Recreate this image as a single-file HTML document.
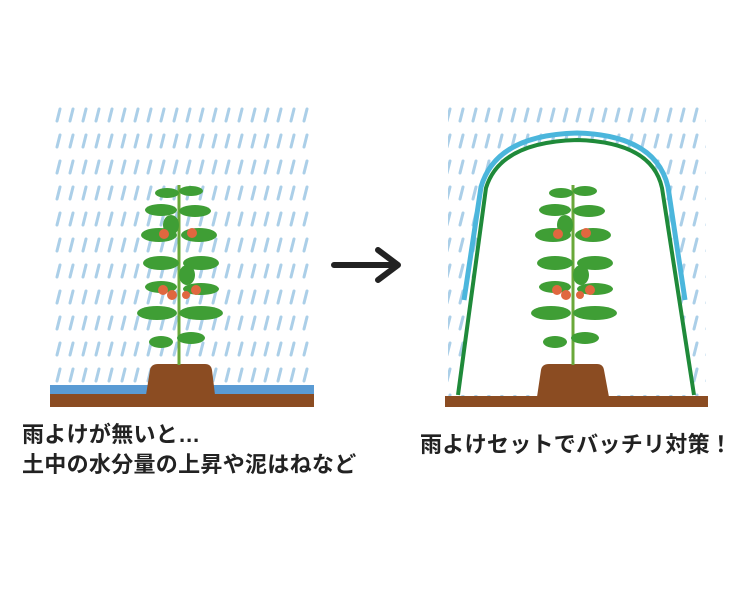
<!DOCTYPE html>
<html><head><meta charset="utf-8"><style>
body{margin:0;background:#fff;width:756px;height:601px;overflow:hidden;position:relative}
.t{position:absolute;font-family:"Liberation Sans","Noto Sans CJK JP",sans-serif;font-weight:bold;font-size:22px;color:#222;white-space:nowrap;letter-spacing:0.3px}
</style></head><body>
<svg width="756" height="601" style="position:absolute;left:0;top:0">
<defs>
<pattern id="rain" width="13" height="26" patternUnits="userSpaceOnUse">
<line x1="8" y1="5" x2="5" y2="17" stroke="#abcfe8" stroke-width="3" stroke-linecap="round"/>
</pattern>
<g id="plant">
<path d="M0,0 L0,180" stroke="#6aa83a" stroke-width="3" fill="none"/>
<g fill="#3f9e35">
<ellipse cx="-12" cy="8" rx="12" ry="5"/><ellipse cx="12" cy="6" rx="12" ry="5"/>
<ellipse cx="-18" cy="25" rx="16" ry="6"/><ellipse cx="16" cy="26" rx="16" ry="6"/>
<ellipse cx="-20" cy="50" rx="18" ry="7"/><ellipse cx="20" cy="50" rx="18" ry="7"/>
<ellipse cx="-18" cy="78" rx="18" ry="7"/><ellipse cx="22" cy="78" rx="18" ry="7"/>
<ellipse cx="-18" cy="102" rx="16" ry="6"/><ellipse cx="22" cy="104" rx="18" ry="6"/>
<ellipse cx="-22" cy="128" rx="20" ry="7"/><ellipse cx="22" cy="128" rx="22" ry="7"/>
<ellipse cx="-18" cy="157" rx="12" ry="6"/><ellipse cx="12" cy="153" rx="14" ry="6"/>
<ellipse cx="-8" cy="40" rx="8" ry="10"/><ellipse cx="8" cy="90" rx="8" ry="10"/>
</g>
<g fill="#e0673f">
<circle cx="-15" cy="49" r="5"/><circle cx="13" cy="48" r="5"/>
<circle cx="-16" cy="105" r="5"/><circle cx="-7" cy="110" r="5"/><circle cx="7" cy="110" r="4"/><circle cx="17" cy="105" r="5"/>
</g>
</g>
</defs>
<rect x="52" y="104" width="260" height="283" fill="url(#rain)"/>
<rect x="50" y="385" width="264" height="10" fill="#5a9bd4"/>
<rect x="50" y="394" width="264" height="13" fill="#8b4c22"/>
<path d="M146,395 L150,370 Q151,364 158,364 L205,364 Q211,364 212,370 L215,395 Z" fill="#8b4c22"/>
<use href="#plant" x="179" y="185"/>
<path d="M334,265 L396,265 M378,250 L398,265 L378,280" stroke="#222" stroke-width="6" fill="none" stroke-linecap="round" stroke-linejoin="round"/>
<rect x="448" y="104" width="258" height="294" fill="url(#rain)"/>
<path d="M458,395 L486,188 Q500,142 577,140 Q652,142 662,188 L694,395 Z" fill="#fff"/>
<path d="M464,300 L481,187 Q496,135 577,133 Q656,135 668,187 L685,300" stroke="#4bb6dc" stroke-width="5" fill="none"/>
<path d="M458,395 L486,188 Q500,142 577,140 Q652,142 662,188 L694,395" stroke="#1f8a3a" stroke-width="4" fill="none"/>
<rect x="445" y="396" width="263" height="11" fill="#8b4c22"/>
<path d="M537,397 L541,370 Q542,364 549,364 L597,364 Q603,364 604,370 L609,397 Z" fill="#8b4c22"/>
<use href="#plant" x="573" y="185"/>
</svg>
<div class="t" style="left:22px;top:417px">雨よけが無いと…</div>
<div class="t" style="left:22px;top:447px">土中の水分量の上昇や泥はねなど</div>
<div class="t" style="left:420px;top:427px">雨よけセットでバッチリ対策！</div>
</body></html>
